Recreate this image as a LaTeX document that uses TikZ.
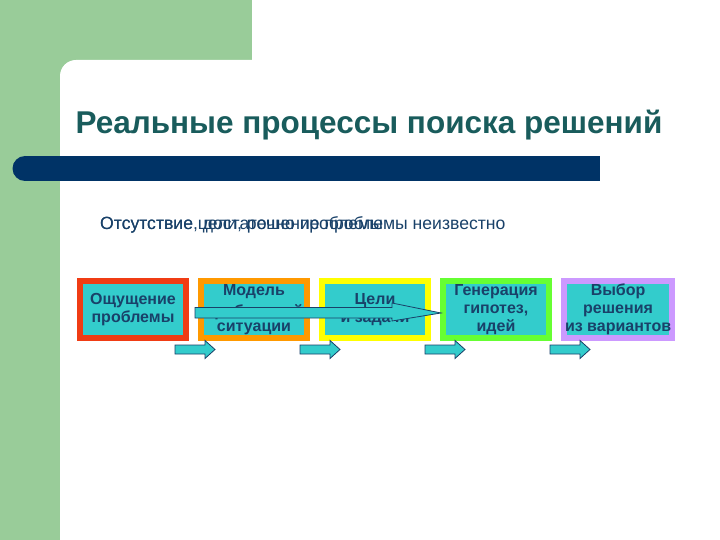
\documentclass[tikz,border=0pt]{standalone}
\usepackage{fontspec}
\setmainfont{Liberation Sans}
\usetikzlibrary{positioning}
\definecolor{slideGreen}{RGB}{153,204,153}
\definecolor{barNavy}{RGB}{0,51,102}
\definecolor{titleTeal}{RGB}{25,92,92}
\definecolor{textNavy}{RGB}{25,65,105}
\definecolor{stageFill}{RGB}{51,204,204}
\definecolor{redStroke}{RGB}{240,60,20}
\definecolor{orangeStroke}{RGB}{255,153,0}
\definecolor{yellowStroke}{RGB}{255,255,0}
\definecolor{greenStroke}{RGB}{102,255,51}
\definecolor{lilacStroke}{RGB}{204,153,255}
\tikzset{
  stagebox/.style={
    rectangle,
    fill=stageFill,
    line width=6pt,
    minimum width=106pt,
    minimum height=57pt,
    inner sep=1pt,
    align=center,
    text=textNavy,
    font=\bfseries\fontsize{16}{18}\selectfont
  },
  blockarrow/.style={fill=stageFill, draw=textNavy, line width=0.8pt, line join=miter},
  caption/.style={anchor=west, inner sep=0pt, text=textNavy, font=\fontsize{17.6}{20}\selectfont}
}

\begin{document}
\begin{tikzpicture}[x=1pt,y=-1pt]
  \useasboundingbox (0,0) rectangle (720,540);
  \clip (0,0) rectangle (720,540);

  % slide background
  \fill[slideGreen] (0,0) rectangle (252,80);
  \fill[slideGreen] (0,0) rectangle (60,540);
  \fill[white, rounded corners=16pt] (60,60) rectangle (760,580);

  \node[font=\bfseries\fontsize{31.5}{36}\selectfont, text=titleTeal] (title) at (369,125) {Реальные процессы поиска решений};

  \fill[barNavy] (25,156) rectangle (600,181);
  \fill[barNavy] (25,168.5) circle (12.5pt);

  % two captions printed one over the other
  \node[caption] (capa) at (100,225) {Отсутствие цели, решение проблемы неизвестно};
  \node[caption] (capb) at (100,225) {Отсутствие, достаточно проблемы};

  \node[stagebox, draw=redStroke] (feel) at (133,309.5) {Ощущение\\проблемы};
  \node[stagebox, draw=orangeStroke, right=9pt of feel] (model) {Модель\\[3pt]проблемной\\[-3pt]ситуации};
  \node[stagebox, draw=yellowStroke, right=9pt of model] (goals) {Цели\\и задачи};
  \node[stagebox, draw=greenStroke, right=9pt of goals] (ideas) {Генерация\\гипотез,\\идей};
  \node[stagebox, draw=lilacStroke, right=9pt of ideas] (choice) {Выбор\\решения\\из вариантов};

  % long arrow over the boxes
  \draw[blockarrow] (195,307.5) -- (392,307.5) -- (392,303) -- (441,313) -- (392,321) -- (392,318) -- (195,318) -- cycle;

  % small arrows under the gaps
  \foreach \ax in {195,320,445,570}
    \draw[blockarrow] (\ax-20,345) -- (\ax+10,345) -- (\ax+10,340.5) -- (\ax+20,349.5)
      -- (\ax+10,358.5) -- (\ax+10,354) -- (\ax-20,354) -- cycle;
\end{tikzpicture}
\end{document}
